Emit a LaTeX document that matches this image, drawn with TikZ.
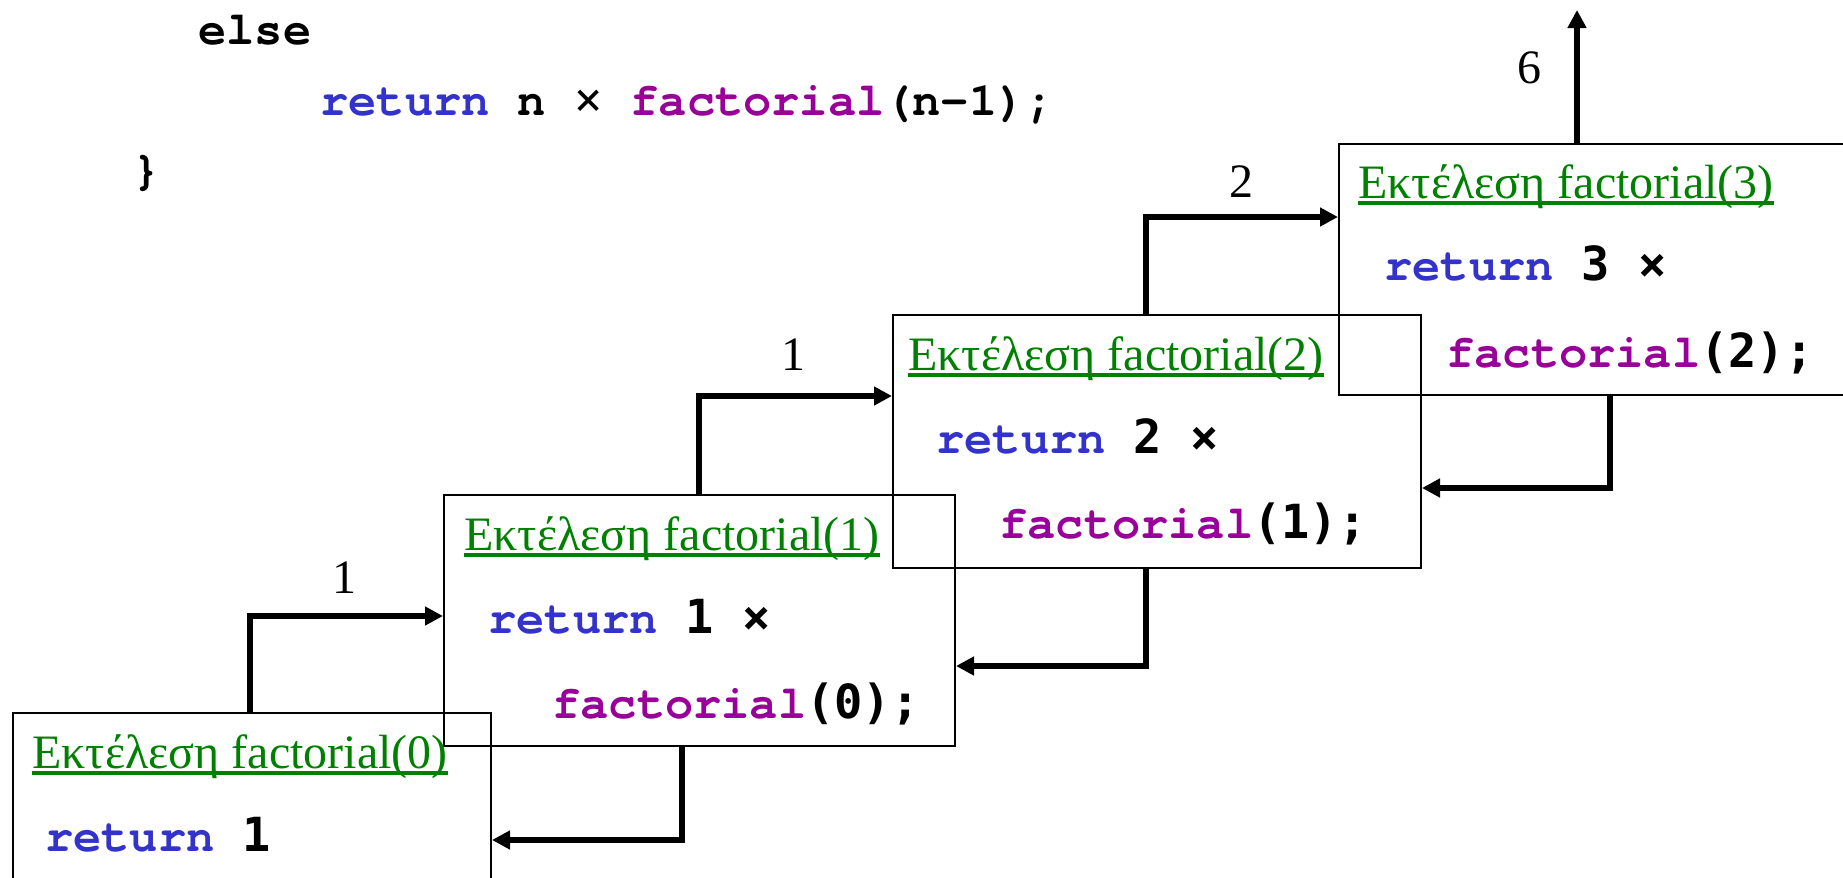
\documentclass[tikz,border=0pt]{standalone}
\usepackage{fontspec}
\setmainfont{Liberation Serif}
\newfontfamily\courfont{TeX Gyre Cursor}
\newfontfamily\dvmfont{DejaVu Sans Mono}
\usetikzlibrary{arrows.meta,calc}
\definecolor{kwblue}{HTML}{3333CC}
\definecolor{fnpurple}{HTML}{990099}
\definecolor{ttlgreen}{HTML}{008000}
\newcommand{\kw}[1]{{\color{kwblue}#1}}
\newcommand{\fn}[1]{{\color{fnpurple}#1}}
\newcommand{\dv}[1]{{\dvmfont\bfseries #1}}
\begin{document}
\begin{tikzpicture}[x=0.5pt,y=-0.5pt,
  framebox/.style={draw, line width=1pt, inner sep=0pt, anchor=north west},
  codetxt/.style={inner sep=0pt, anchor=base west, font=\courfont\bfseries\fontsize{23.5pt}{28pt}\selectfont},
  ttl/.style={inner sep=0pt, anchor=base west, text=ttlgreen, font=\fontsize{24pt}{28pt}\selectfont},
  ul/.style={draw=ttlgreen, line width=1.6pt},
  lbl/.style={inner sep=0pt, font=\fontsize{24pt}{28pt}\selectfont},
  arr/.style={line width=3pt, -{Triangle[length=9pt,width=9pt]}}
]
\clip (0,0) rectangle (1843,878);
% top code
\node[codetxt] (else) at (198,45) {else};
\node[codetxt] (ret) at (320,115) {\kw{return} n {\dvmfont\mdseries\texttimes} \fn{factorial}(n-1);};
\node[codetxt] (brace) at (132,184) {\}};
% boxes
\node[framebox, minimum width=275pt, minimum height=125.5pt] (b3) at (1338,143) {};
\node[framebox, minimum width=264pt, minimum height=126.5pt] (b2) at (892,314) {};
\node[framebox, minimum width=255.5pt, minimum height=125.5pt] (b1) at (443,494) {};
\node[framebox, minimum width=239pt, minimum height=130pt] (b0) at (12,712) {};
% box 3
\node[ttl] (t3) at (1358,198) {Εκτέλεση factorial(3)};
\draw[ul] ($(t3.base west)+(0,5)$) -- ($(t3.base east)+(0,5)$);
\node[codetxt] (r3) at (1384,280) {\kw{return} \dv{3 ×}};
\node[codetxt] (f3) at (1446,367) {\fn{factorial}\dv{(2);}};
% box 2
\node[ttl] (t2) at (908,370) {Εκτέλεση factorial(2)};
\draw[ul] ($(t2.base west)+(0,5)$) -- ($(t2.base east)+(0,5)$);
\node[codetxt] (r2) at (936,453) {\kw{return} \dv{2 ×}};
\node[codetxt] (f2) at (999,538) {\fn{factorial}\dv{(1);}};
% box 1
\node[ttl] (t1) at (464,550) {Εκτέλεση factorial(1)};
\draw[ul] ($(t1.base west)+(0,5)$) -- ($(t1.base east)+(0,5)$);
\node[codetxt] (r1) at (488,633) {\kw{return} \dv{1 ×}};
\node[codetxt] (f1) at (552,718) {\fn{factorial}\dv{(0);}};
% box 0
\node[ttl] (t0) at (32,768) {Εκτέλεση factorial(0)};
\draw[ul] ($(t0.base west)+(0,5)$) -- ($(t0.base east)+(0,5)$);
\node[codetxt] (r0) at (45,851) {\kw{return} \dv{1}};
% connector coordinates
\coordinate (c01) at (250,616);
\coordinate (c12) at (699,396);
\coordinate (c23) at (1146,217);
\coordinate (c3up) at (1577,10);
\coordinate (r32) at (1610,488);
\coordinate (r21) at (1146,666);
\coordinate (r10) at (682,840);
% calls
\draw[arr] (c01 |- b0.north) |- (b1.west |- c01);
\draw[arr] (c12 |- b1.north) |- (b2.west |- c12);
\draw[arr] (c23 |- b2.north) |- (b3.west |- c23);
\draw[arr] (c3up |- b3.north) -- (c3up);
% returns
\draw[arr] (r32 |- b3.south) |- (b2.east |- r32);
\draw[arr] (r21 |- b2.south) |- (b1.east |- r21);
\draw[arr] (r10 |- b1.south) |- (b0.east |- r10);
% labels
\node[lbl] (l01) at (344,578) {1};
\node[lbl] (l12) at (793,355) {1};
\node[lbl] (l23) at (1241,182) {2};
\node[lbl] (l3) at (1529,68) {6};
\end{tikzpicture}
\end{document}
